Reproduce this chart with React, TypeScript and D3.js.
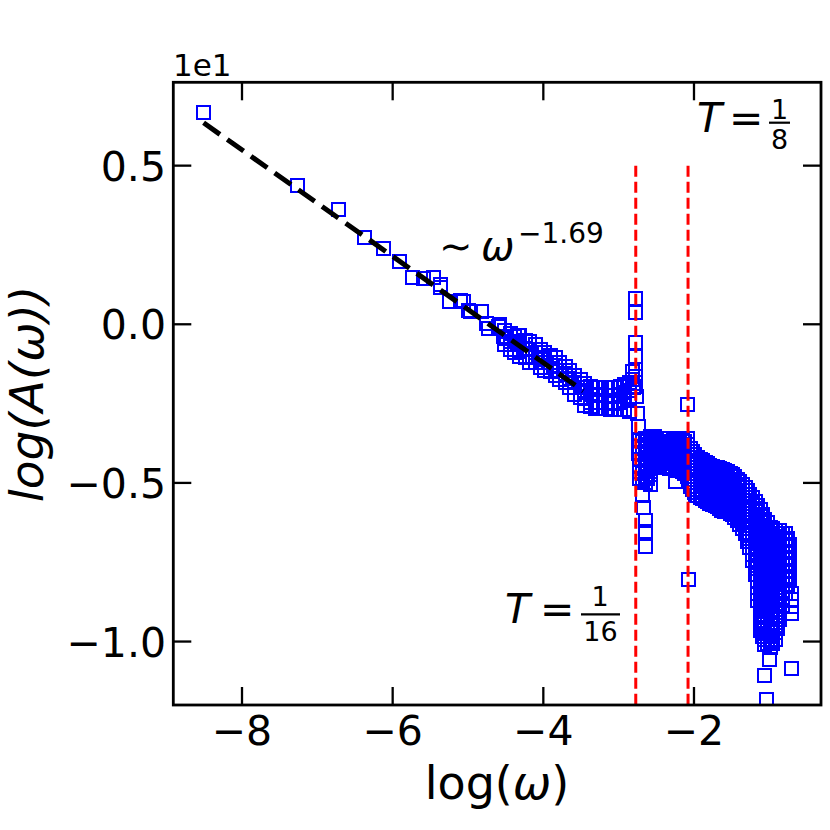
import React from 'react';
import * as d3 from 'd3';

// axis ticks (y values are stored in real units, axis shows them scaled by 1e1)
const xTicks = [-8, -6, -4, -2];
const yTicks = [-10, -5, 0, 5];

// power-law branch, single points
const powerLawX = [-8.51, -7.26, -6.72, -6.38, -6.12, -5.91, -5.74, -5.59, -5.46, -5.36, -5.37, -5.25, -5.1, -5.06, -4.99, -4.97, -4.82, -4.75, -4.73, -4.6, -4.58, -4.53, -4.49, -4.33];
const powerLawY = [6.68, 4.36, 3.61, 2.74, 2.4, 1.97, 1.47, 1.45, 1.48, 1.15, 1.24, 0.71, 0.74, 0.71, 0.45, 0.4, 0.4, 0.03, -0.13, -0.08, -0.02, -0.39, -0.39, -0.34];

// thick band before the first resonance: one column per x
const bandX = [-4.51, -4.44, -4.38, -4.31, -4.24, -4.18, -4.11, -4.04, -3.98, -3.91, -3.84, -3.78, -3.71, -3.65, -3.58, -3.51, -3.45, -3.38, -3.31, -3.25, -3.18, -3.11, -3.05, -2.98, -2.92, -2.85];
const bandY = [
  [-0.2, -0.45, -0.65], [-0.3, -0.55, -0.8], [-0.4, -0.65, -0.88], [-0.35, -0.6, -0.85, -1.0],
  [-0.5, -0.75, -1.05], [-0.55, -0.8, -1.0, -1.2], [-0.65, -0.9, -1.2], [-0.8, -1.05, -1.35],
  [-0.88, -1.1, -1.35, -1.45], [-0.97, -1.2, -1.5], [-1.06, -1.3, -1.6], [-1.19, -1.45, -1.75],
  [-1.32, -1.55, -1.82], [-1.45, -1.7, -2.0], [-1.6, -1.85, -2.2], [-1.75, -2.0, -2.3],
  [-1.88, -2.1, -2.35, -2.55], [-1.95, -2.2, -2.45, -2.6], [-1.98, -2.2, -2.45, -2.65], [-2.0, -2.25, -2.45, -2.65],
  [-2.0, -2.25, -2.45, -2.65], [-2.0, -2.25, -2.5, -2.7], [-2.0, -2.25, -2.5, -2.7], [-1.95, -2.2, -2.45, -2.7],
  [-1.9, -2.15, -2.4, -2.7], [-1.85, -2.1, -2.4, -2.75],
];

// plateau between the two resonances
const gapX = [-2.72, -2.685, -2.65, -2.615, -2.58, -2.55, -2.52, -2.485, -2.45, -2.415, -2.38, -2.35, -2.32, -2.285, -2.25, -2.22, -2.19, -2.155, -2.12, -2.085];
const gapY = [
  [-3.65, -3.85, -4.05, -4.25, -4.45, -4.65, -4.85],
  [-3.7, -3.9, -4.1, -4.3, -4.5, -4.7, -4.9],
  [-3.6, -3.8, -4.0, -4.2, -4.4, -4.6, -4.8, -5.0],
  [-3.65, -3.85, -4.05, -4.25, -4.45, -4.65, -4.85],
  [-3.55, -3.75, -3.95, -4.15, -4.35, -4.55, -4.75],
  [-3.65, -3.85, -4.05, -4.25, -4.45],
  [-3.55, -3.75, -3.95, -4.15, -4.35, -4.5],
  [-3.7, -3.9, -4.1, -4.3, -4.45],
  [-3.6, -3.8, -4.0, -4.2, -4.4],
  [-3.7, -3.9, -4.1, -4.3],
  [-3.6, -3.8, -4.0, -4.2, -4.4],
  [-3.7, -3.9, -4.1, -4.3, -4.48],
  [-3.6, -3.8, -4.0, -4.2, -4.4, -4.55],
  [-3.7, -3.9, -4.1, -4.3, -4.5],
  [-3.65, -3.85, -4.05, -4.25, -4.45, -4.6],
  [-3.7, -3.9, -4.1, -4.3, -4.5],
  [-3.6, -3.8, -4.0, -4.2, -4.4, -4.6],
  [-3.65, -3.85, -4.05, -4.25, -4.45, -4.65],
  [-3.7, -3.9, -4.1, -4.3, -4.5, -4.7],
  [-3.8, -4.0, -4.2, -4.4, -4.6, -4.8],
];

// high-frequency shoulder and drop-off
const tailX = [
  -2.05, -2.02, -1.99, -1.955, -1.92, -1.885, -1.85, -1.82, -1.79, -1.755, -1.72, -1.69, -1.66, -1.625,
  -1.59, -1.555, -1.52, -1.49, -1.46, -1.425, -1.39, -1.355, -1.32, -1.29, -1.26, -1.225, -1.19, -1.155,
  -1.12, -1.09, -1.06, -1.025, -0.99, -0.955, -0.92, -0.89, -0.86, -0.825, -0.79, -0.76, -0.73,
];
const tailY = [
  [-3.9, -4.1, -4.3, -4.5, -4.7, -4.9, -5.1],
  [-4.0, -4.2, -4.4, -4.6, -4.8, -5.0, -5.2],
  [-4.1, -4.3, -4.5, -4.7, -4.9, -5.1, -5.3],
  [-4.2, -4.4, -4.6, -4.8, -5.0, -5.2, -5.4],
  [-4.25, -4.45, -4.65, -4.85, -5.05, -5.25, -5.45],
  [-4.3, -4.5, -4.7, -4.9, -5.1, -5.3, -5.5],
  [-4.35, -4.55, -4.75, -4.95, -5.15, -5.35, -5.55],
  [-4.4, -4.6, -4.8, -5.0, -5.2, -5.4, -5.6],
  [-4.45, -4.65, -4.85, -5.05, -5.25, -5.45, -5.65],
  [-4.48, -4.68, -4.88, -5.08, -5.28, -5.48, -5.68],
  [-4.5, -4.7, -4.9, -5.1, -5.3, -5.5, -5.7],
  [-4.52, -4.72, -4.92, -5.12, -5.32, -5.52, -5.75],
  [-4.55, -4.75, -4.95, -5.15, -5.35, -5.55, -5.8],
  [-4.58, -4.78, -4.98, -5.18, -5.38, -5.58, -5.85],
  [-4.6, -4.8, -5.0, -5.2, -5.4, -5.6, -5.9],
  [-4.65, -4.85, -5.05, -5.25, -5.45, -5.65, -5.9],
  [-4.7, -4.9, -5.1, -5.3, -5.5, -5.7, -5.95],
  [-4.75, -4.95, -5.15, -5.35, -5.55, -5.75, -6.0],
  [-4.8, -5.0, -5.2, -5.4, -5.6, -5.8, -6.1],
  [-4.88, -5.08, -5.28, -5.48, -5.68, -5.88, -6.05, -6.2],
  [-4.95, -5.15, -5.35, -5.55, -5.75, -5.95, -6.15, -6.3],
  [-5.05, -5.25, -5.45, -5.65, -5.85, -6.05, -6.25, -6.45],
  [-5.15, -5.35, -5.55, -5.75, -5.95, -6.15, -6.35, -6.6],
  [-5.25, -5.45, -5.65, -5.85, -6.05, -6.25, -6.45, -6.65, -6.85],
  [-5.35, -5.55, -5.75, -5.95, -6.15, -6.35, -6.55, -6.75, -7.05],
  [-5.45, -5.65, -5.85, -6.05, -6.25, -6.45, -6.65, -6.85, -7.05, -7.25, -7.45],
  [-5.6, -5.8, -6.0, -6.2, -6.4, -6.6, -6.8, -7.0, -7.2, -7.4, -7.6, -7.9],
  [-5.7, -5.9, -6.1, -6.3, -6.5, -6.7, -6.9, -7.1, -7.3, -7.5, -7.7, -7.9, -8.1, -8.3, -8.5, -8.7],
  [-5.85, -6.05, -6.25, -6.45, -6.65, -6.85, -7.05, -7.25, -7.45, -7.65, -7.85, -8.05, -8.25, -8.45, -8.65, -8.85, -9.05, -9.25, -9.45, -9.65],
  [-6.0, -6.2, -6.4, -6.6, -6.8, -7.0, -7.2, -7.4, -7.6, -7.8, -8.0, -8.2, -8.4, -8.6, -8.8, -9.0, -9.2, -9.4, -9.6, -9.85],
  [-6.15, -6.35, -6.55, -6.75, -6.95, -7.15, -7.35, -7.55, -7.75, -7.95, -8.15, -8.35, -8.55, -8.75, -8.95, -9.15, -9.35, -9.55, -9.75, -9.95, -10.1],
  [-6.25, -6.45, -6.65, -6.85, -7.05, -7.25, -7.45, -7.65, -7.85, -8.05, -8.25, -8.45, -8.65, -8.85, -9.05, -9.25, -9.45, -9.65, -9.85, -10.05],
  [-6.4, -6.6, -6.8, -7.0, -7.2, -7.4, -7.6, -7.8, -8.0, -8.2, -8.4, -8.6, -8.8, -9.0, -9.2, -9.4, -9.6, -9.8, -10.0, -10.2],
  [-6.45, -6.65, -6.85, -7.05, -7.25, -7.45, -7.65, -7.85, -8.05, -8.25, -8.45, -8.65, -8.85, -9.05, -9.25, -9.45, -9.65, -9.85, -10.05],
  [-6.5, -6.7, -6.9, -7.1, -7.3, -7.5, -7.7, -7.9, -8.1, -8.3, -8.5, -8.7, -8.9, -9.1, -9.3, -9.5, -9.7, -9.95],
  [-6.6, -6.8, -7.0, -7.2, -7.4, -7.6, -7.8, -8.0, -8.2, -8.4, -8.6, -8.8, -9.0, -9.2, -9.4, -9.6],
  [-6.5, -6.7, -6.9, -7.1, -7.3, -7.5, -7.7, -7.9, -8.1, -8.3, -8.5, -8.7, -8.9, -9.1, -9.3],
  [-6.6, -6.8, -7.0, -7.2, -7.4, -7.6, -7.8, -8.0, -8.2, -8.4, -8.6, -8.85],
  [-6.6, -6.8, -7.0, -7.2, -7.4, -7.6, -7.8, -8.0, -8.2, -8.5],
  [-6.75, -6.95, -7.15, -7.35, -7.55, -7.75, -7.95, -8.2],
  [-6.95, -7.15, -7.35, -7.55, -7.75, -8.05],
];

// resonance at T = 1/16 and the few points around T = 1/8
const peak16X = [-2.82, -2.81, -2.8, -2.77, -2.77, -2.78, -2.78, -2.78, -2.77, -2.77, -2.76, -2.75, -2.73, -2.74, -2.73, -2.72, -2.69, -2.68, -2.67, -2.64, -2.65, -2.64];
const peak16Y = [-1.5, -1.75, -2.0, 0.82, 0.37, -0.57, -1.02, -1.42, -1.65, -1.97, -2.28, -2.8, -3.23, -3.65, -4.07, -4.49, -4.96, -5.41, -5.77, -6.17, -6.54, -7.01];
const peak8X = [-2.08, -2.08, -2.075];
const peak8Y = [-2.52, -3.6, -8.06];

// stray points
const strayX = [-2.24, -1.98, -1.63, -2.58, -0.7, -0.7, -0.7, -0.7, -0.7, -1.07, -1.0, -1.035];
const strayY = [-4.94, -5.41, -5.88, -5.06, -8.48, -8.69, -8.9, -9.11, -10.84, -11.08, -10.58, -11.84];

// power-law fit  ~ omega^-1.69
const fitX = [-8.51, -3.47];
const fitY = [6.35, -2.1];

// log(1/16), log(1/8)
const resonanceX = [-2.773, -2.079];
const resonanceTop = 5;

const box = { left: 173.3, right: 821, top: 82.3, bottom: 705 };
const font = 'DejaVu Sans';

export default function App() {
  const x = d3.scaleLinear().domain([-8.912, -0.314]).range([box.left, box.right]);
  const y = d3.scaleLinear().domain([7.627, -12]).range([box.top, box.bottom]);

  const pts: [number, number][] = [];
  powerLawX.forEach((v, i) => pts.push([v, powerLawY[i]]));
  const addCols = (xs: number[], ys: number[][]) =>
    xs.forEach((v, i) => ys[i].forEach((w) => pts.push([v, w])));
  addCols(bandX, bandY);
  addCols(gapX, gapY);
  addCols(tailX, tailY);
  peak16X.forEach((v, i) => pts.push([v, peak16Y[i]]));
  peak8X.forEach((v, i) => pts.push([v, peak8Y[i]]));
  strayX.forEach((v, i) => pts.push([v, strayY[i]]));

  const line = d3.line<number>().x((d) => x(d)).y((_, i) => y(fitY[i]));
  const minus = (s: string) => s.replace('-', '\u2212');
  const fmtY = (v: number) => minus(d3.format('.1f')(v / 10));

  const side = 13;
  const tickLen = 18;

  return (
    <svg width={830} height={830} style={{ position: 'absolute', left: 0, top: 0, background: '#fff' }}
      fontFamily={font}>
      <defs>
        <clipPath id="plot">
          <rect x={box.left} y={box.top} width={box.right - box.left} height={box.bottom - box.top} />
        </clipPath>
      </defs>

      <g clipPath="url(#plot)">
        <g shapeRendering="crispEdges">
          {pts.map(([a, b], i) => (
            <rect key={i} x={Math.round(x(a) - side / 2)} y={Math.round(y(b) - side / 2)} width={side} height={side}
              fill="none" stroke="#0000ff" strokeWidth={2.2} />
          ))}
        </g>
        <path d={line(fitX) ?? ''} fill="none" stroke="#000" strokeWidth={5} strokeDasharray="20 9" />
        {resonanceX.map((v) => (
          <line key={v} x1={x(v)} x2={x(v)} y1={y(resonanceTop)} y2={box.bottom}
            stroke="#ff0000" strokeWidth={3} strokeDasharray="11 5" />
        ))}
      </g>

      {/* ticks, inward on all sides */}
      <g stroke="#000" strokeWidth={2.3}>
        {xTicks.map((t) => (
          <g key={t}>
            <line x1={x(t)} x2={x(t)} y1={box.bottom} y2={box.bottom - tickLen} />
            <line x1={x(t)} x2={x(t)} y1={box.top} y2={box.top + tickLen} />
          </g>
        ))}
        {yTicks.map((t) => (
          <g key={t}>
            <line x1={box.left} x2={box.left + tickLen} y1={y(t)} y2={y(t)} />
            <line x1={box.right} x2={box.right - tickLen} y1={y(t)} y2={y(t)} />
          </g>
        ))}
      </g>
      <rect x={box.left} y={box.top} width={box.right - box.left} height={box.bottom - box.top}
        fill="none" stroke="#000" strokeWidth={2.8} />

      <g fontSize={41} fill="#000">
        {xTicks.map((t) => (
          <text key={t} x={x(t)} y={745} textAnchor="middle">{minus(String(t))}</text>
        ))}
        {yTicks.map((t) => (
          <text key={t} x={166} y={y(t) + 15} textAnchor="end">{fmtY(t)}</text>
        ))}
      </g>
      <text x={173} y={76} fontSize={31}>1e1</text>

      {/* axis labels */}
      <text x={497} y={799} fontSize={46} textAnchor="middle">
        log(<tspan fontStyle="italic">ω</tspan>)
      </text>
      <text transform="translate(43,394) rotate(-90)" fontSize={47} textAnchor="middle" fontStyle="italic">
        log(A(ω))
      </text>

      {/* fit annotation */}
      <text x={439} y={260} fontSize={40}>∼</text>
      <text x={481} y={260} fontSize={40} fontStyle="italic">ω</text>
      <text x={518} y={243} fontSize={28}>−1.69</text>

      {/* T = 1/8 */}
      <text x={697} y={132} fontSize={41} fontStyle="italic">T</text>
      <text x={729} y={132} fontSize={41}>=</text>
      <line x1={769} x2={790} y1={122.7} y2={122.7} stroke="#000" strokeWidth={2.2} />
      <text x={779.5} y={119} fontSize={27} textAnchor="middle">1</text>
      <text x={779.5} y={149} fontSize={27} textAnchor="middle">8</text>

      {/* T = 1/16 */}
      <text x={505} y={623} fontSize={41} fontStyle="italic">T</text>
      <text x={540} y={623} fontSize={41}>=</text>
      <line x1={581} x2={620} y1={614.3} y2={614.3} stroke="#000" strokeWidth={2.2} />
      <text x={600} y={606} fontSize={27} textAnchor="middle">1</text>
      <text x={600.5} y={641} fontSize={27} textAnchor="middle">16</text>
    </svg>
  );
}
